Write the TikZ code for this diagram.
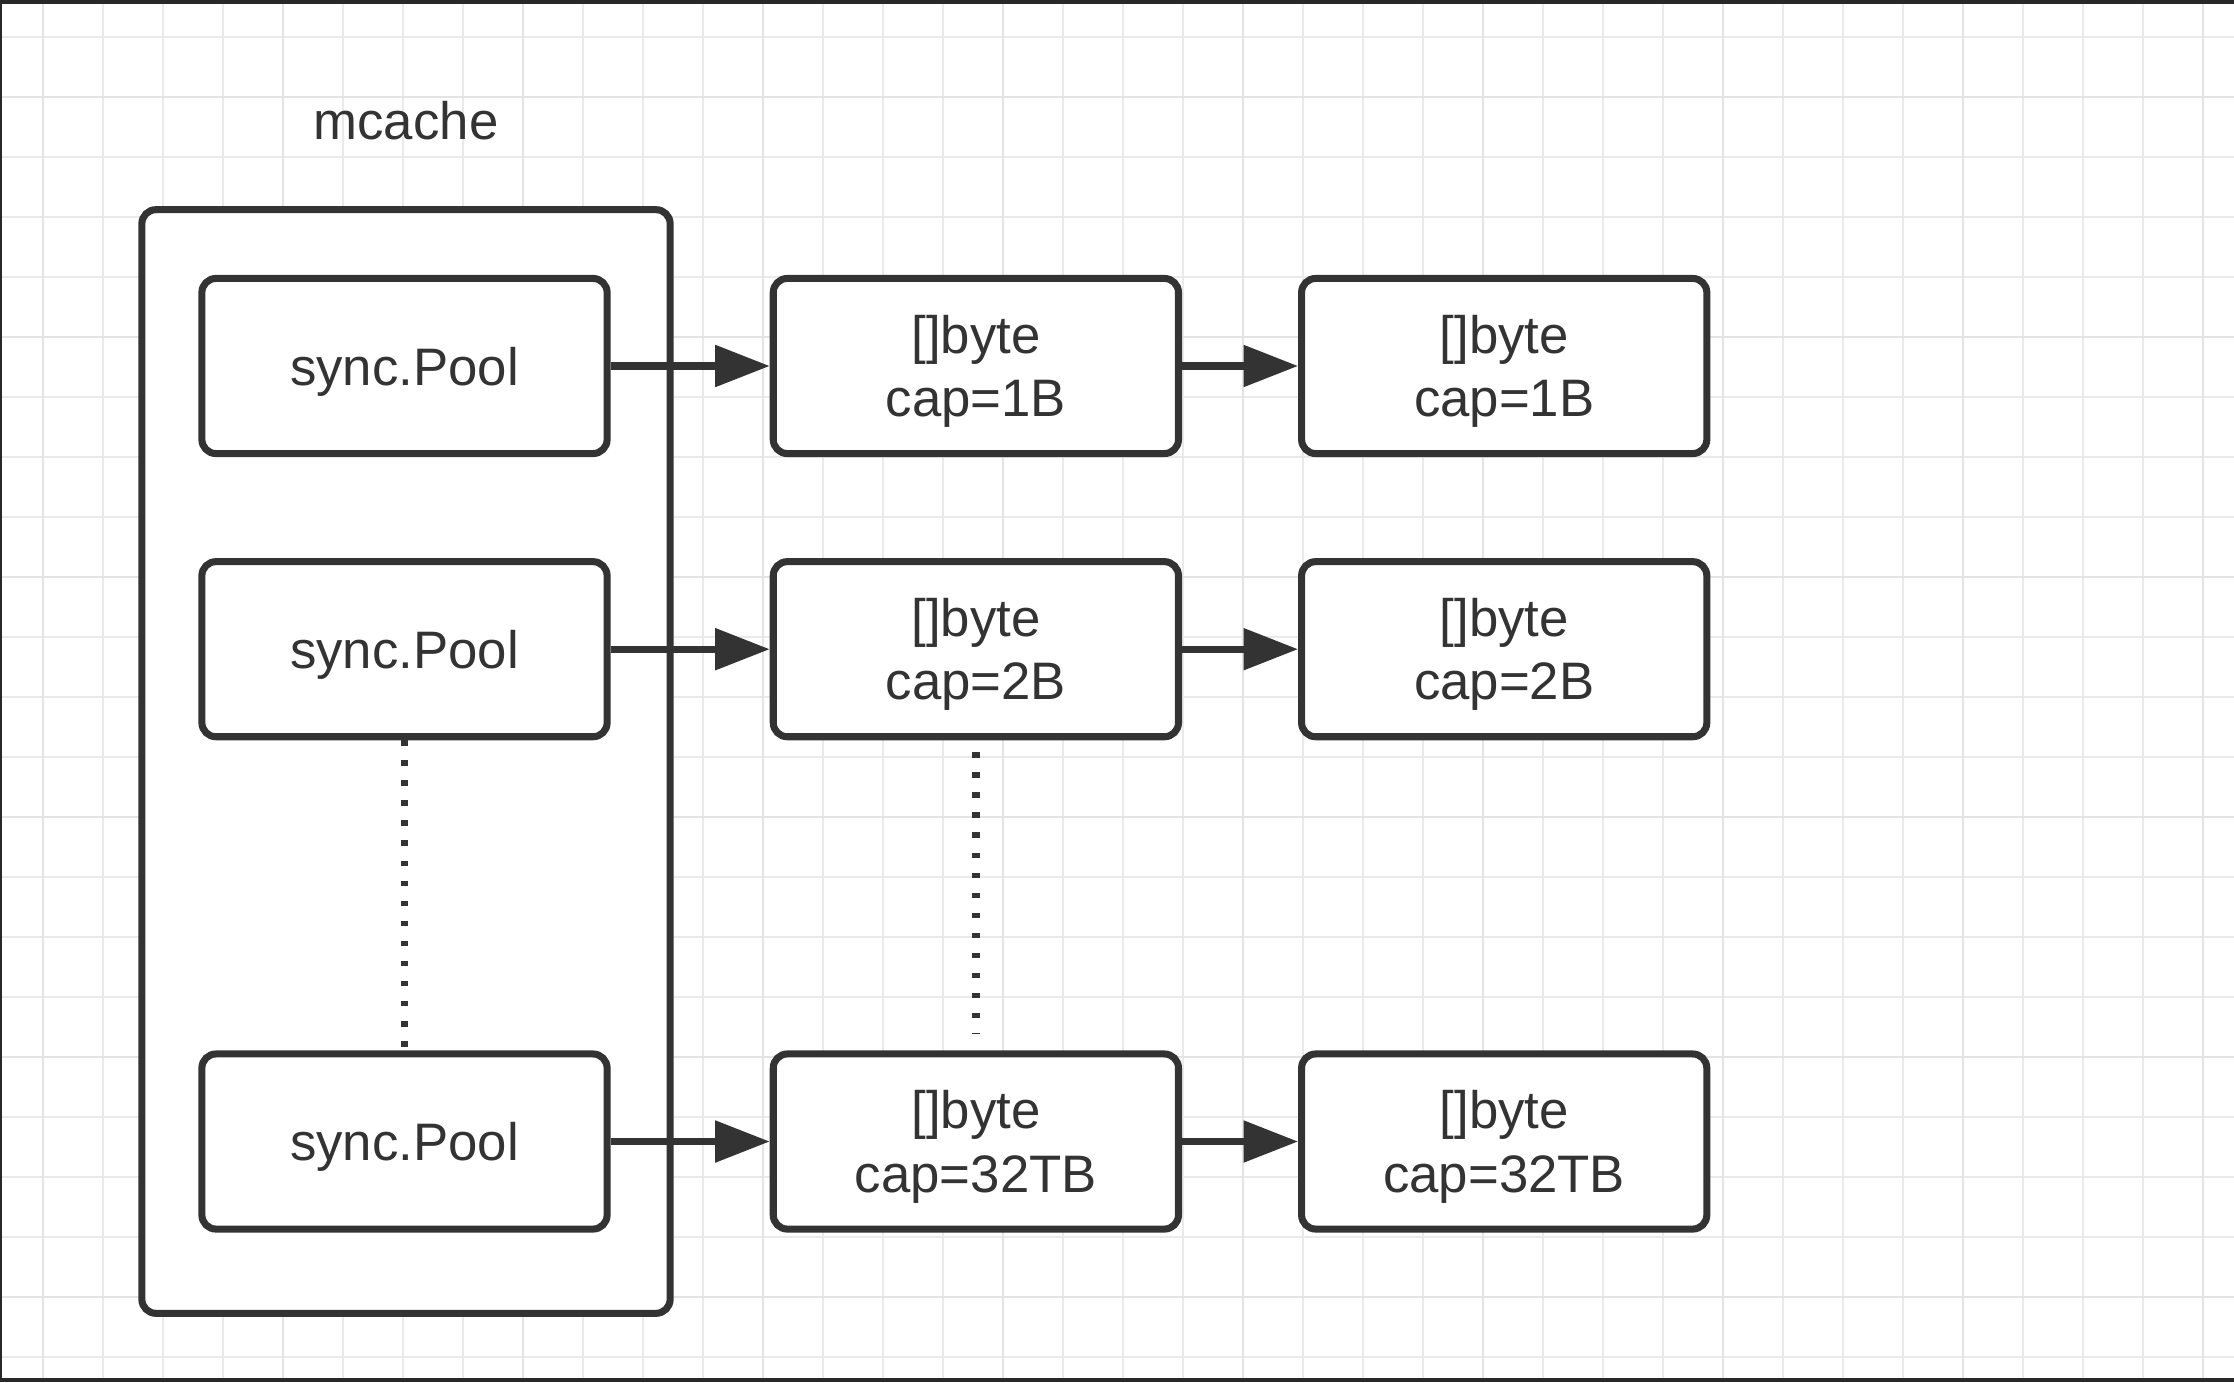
\documentclass[tikz,border=0pt]{standalone}
\usepackage{fontspec}
\setmainfont{Liberation Sans}
\usepackage{tikz}
\usetikzlibrary{arrows.meta, positioning}
\definecolor{inkgray}{RGB}{51, 51, 51}
\definecolor{gridgray}{RGB}{234, 234, 234}
\definecolor{majorgray}{RGB}{228, 228, 228}
\definecolor{framegray}{RGB}{40, 40, 40}

\begin{document}
\begin{tikzpicture}[
    x=0.01cm, y=-0.01cm,
    gridline/.style={draw=gridgray, line width=0.8pt},
    majorline/.style={draw=majorgray, line width=0.8pt},
    cachebox/.style={draw=inkgray, fill=white, line width=2pt, rounded corners=4pt, minimum width=5.28cm, minimum height=11.03cm},
    pool/.style={draw=inkgray, fill=white, line width=2pt, rounded corners=4pt, minimum width=4.05cm, minimum height=1.75cm, font=\fontsize{15pt}{18pt}\selectfont, text=inkgray, align=center, text depth=0pt},
    caption/.style={font=\fontsize{15pt}{18pt}\selectfont, text=inkgray},
    arrow/.style={-{Triangle[length=15.5pt, width=11.5pt]}, line width=2pt, inkgray},
    dotline/.style={inkgray, line width=2.2pt, dash pattern=on 1.6pt off 4.1pt}
]
    \useasboundingbox (0,0) rectangle (2234,1382);
    \fill[white] (0,0) rectangle (2234,1382);

    % Grid
    \foreach \gx in {43,103,...,2234} \draw[gridline] (\gx,0) -- (\gx,1382);
    \foreach \gy in {37,97,...,1382} \draw[gridline] (0,\gy) -- (2234,\gy);
    \foreach \gx in {43,283,...,2234} \draw[majorline] (\gx,0) -- (\gx,1382);
    \foreach \gy in {97,337,...,1382} \draw[majorline] (0,\gy) -- (2234,\gy);

    % Frame
    \fill[framegray] (0,0) rectangle (2234,4);
    \fill[framegray] (0,0) rectangle (2,1382);
    \fill[framegray] (0,1378) rectangle (2234,1382);

    % Outer box
    \node[cachebox] (cache) at (406,761.5) {};
    \node[caption, above=0.54cm of cache] (title) {mcache};

    % Nodes - pools
    \node[pool] (pool1) at (404.5,366) {sync.Pool};
    \node[pool, below=1.01cm of pool1] (pool2) {sync.Pool};
    \node[pool, below=3.10cm of pool2] (pool3) {sync.Pool};

    % Nodes - first buffers
    \node[pool, right=1.59cm of pool1] (bufa1) {[]byte\\cap=1B};
    \node[pool, right=1.59cm of pool2] (bufa2) {[]byte\\cap=2B};
    \node[pool, right=1.59cm of pool3] (bufa3) {[]byte\\cap=32TB};

    % Nodes - second buffers
    \node[pool, right=1.16cm of bufa1] (bufb1) {[]byte\\cap=1B};
    \node[pool, right=1.16cm of bufa2] (bufb2) {[]byte\\cap=2B};
    \node[pool, right=1.16cm of bufa3] (bufb3) {[]byte\\cap=32TB};

    % Arrows
    \draw[arrow] (pool1) -- (bufa1);
    \draw[arrow] (pool2) -- (bufa2);
    \draw[arrow] (pool3) -- (bufa3);
    \draw[arrow] (bufa1) -- (bufb1);
    \draw[arrow] (bufa2) -- (bufb2);
    \draw[arrow] (bufa3) -- (bufb3);

    % Dotted gaps
    \draw[dotline] (pool2) -- (pool3);
    \draw[dotline, shorten <=0.12cm, shorten >=0.16cm] (bufa2) -- (bufa3);
\end{tikzpicture}
\end{document}
